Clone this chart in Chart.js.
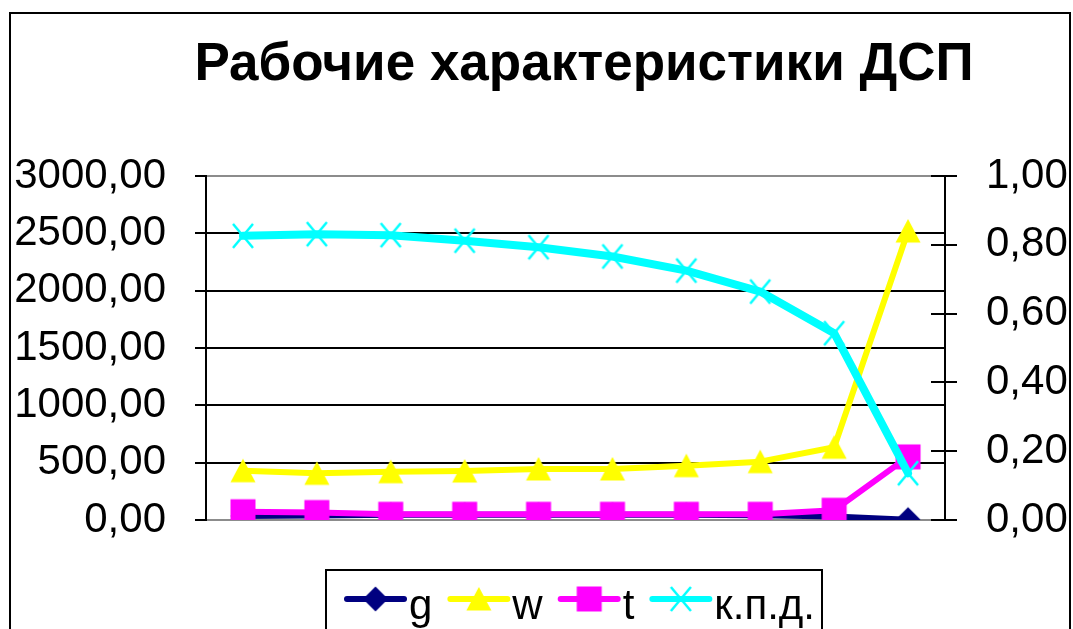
<!DOCTYPE html>
<html>
<head>
<meta charset="utf-8">
<script src="https://cdn.jsdelivr.net/npm/chart.js@4.4.1/dist/chart.umd.min.js"></script>
<style>
  html, body { margin: 0; padding: 0; background: #fff; }
  #wrap { width: 1073px; height: 629px; position: relative; overflow: hidden; }
  canvas { display: block; background: #fff; }
</style>
</head>
<body>
<div id="wrap"><canvas id="chart" width="1073" height="629"></canvas></div>
<script>
// ---- data ----
const chartTitle = 'Рабочие характеристики ДСП';
const categories = ['1', '2', '3', '4', '5', '6', '7', '8', '9', '10'];
const seriesNames = ['g', 'w', 't', 'к.п.д.'];
const gValues   = [35, 40, 45, 45, 45, 45, 45, 42, 30, 3];
const wValues   = [430, 407, 421, 427, 445, 445, 474, 509, 634, 2520];
const tValues   = [72, 65, 50, 50, 50, 50, 50, 50, 85, 550];
const kpdValues = [0.826, 0.831, 0.828, 0.812, 0.793, 0.766, 0.725, 0.664, 0.543, 0.136];
const leftTicks  = [0, 500, 1000, 1500, 2000, 2500, 3000];
const rightTicks = [0, 0.2, 0.4, 0.6, 0.8, 1.0];

const FONT = "'Liberation Sans', Arial, Helvetica, sans-serif";
const fmt = v => Number(v).toFixed(2).replace('.', ',');

// marker glyphs drawn once onto small canvases, reused by the lines and the legend
function makeMarker(kind, color) {
  const s = 30, m = s / 2;
  const c = document.createElement('canvas');
  c.width = s; c.height = s;
  const x = c.getContext('2d');
  x.fillStyle = color;
  x.strokeStyle = color;
  x.beginPath();
  if (kind === 'diamond') {
    x.moveTo(m, m - 12.5); x.lineTo(m + 12.5, m); x.lineTo(m, m + 12.5); x.lineTo(m - 12.5, m);
    x.closePath(); x.fill();
  } else if (kind === 'triangle') {
    x.moveTo(m, m - 12); x.lineTo(m + 12.5, m + 11.5); x.lineTo(m - 12.5, m + 11.5);
    x.closePath(); x.fill();
  } else if (kind === 'square') {
    x.rect(m - 12.5, m - 12.5, 25, 25); x.fill();
  } else if (kind === 'cross') {
    x.lineWidth = 2.5;
    x.moveTo(m - 10, m - 12); x.lineTo(m + 10, m + 12);
    x.moveTo(m + 10, m - 12); x.lineTo(m - 10, m + 12);
    x.stroke();
  }
  return c;
}

const colors = { g: '#000080', w: '#FFFF00', t: '#FF00FF', kpd: '#00FFFF' };

function lineSeries(label, data, color, width, marker, axis, order) {
  return {
    label, data, yAxisID: axis, order,
    borderColor: color, backgroundColor: color, borderWidth: width,
    borderJoinStyle: 'round', borderCapStyle: 'round',
    pointStyle: makeMarker(marker, color), pointRadius: 12, pointHoverRadius: 12,
    tension: 0, fill: false
  };
}

const datasets = [
  lineSeries(seriesNames[0], gValues,   colors.g,   6, 'diamond',  'y',  4),
  lineSeries(seriesNames[1], wValues,   colors.w,   6, 'triangle', 'y',  3),
  lineSeries(seriesNames[2], tValues,   colors.t,   6, 'square',   'y',  2),
  lineSeries(seriesNames[3], kpdValues, colors.kpd, 8, 'cross',    'y1', 1)
];

// frame, title, inner half of the right-axis ticks and the legend box
const decorations = {
  id: 'decorations',
  afterDraw(chart) {
    const ctx = chart.ctx;
    ctx.save();

    // outer frame
    ctx.strokeStyle = '#000';
    ctx.lineWidth = 2;
    ctx.strokeRect(10, 13, 1060, 700);

    // title
    ctx.fillStyle = '#000';
    ctx.font = 'bold 53px ' + FONT;
    ctx.textAlign = 'center';
    ctx.textBaseline = 'alphabetic';
    ctx.fillText(chartTitle, 584, 80);

    // right axis ticks cross the axis line
    const r = chart.scales.y1;
    ctx.strokeStyle = '#000';
    ctx.lineWidth = 2;
    r.ticks.forEach(t => {
      const py = Math.round(r.getPixelForValue(t.value));
      ctx.beginPath();
      ctx.moveTo(r.left - 14, py);
      ctx.lineTo(r.left, py);
      ctx.stroke();
    });

    // legend
    ctx.lineWidth = 2;
    ctx.strokeStyle = '#000';
    ctx.fillStyle = '#fff';
    ctx.fillRect(326, 570, 496, 80);
    ctx.strokeRect(326, 570, 496, 80);
    ctx.font = '42px ' + FONT;
    ctx.textAlign = 'left';
    ctx.textBaseline = 'alphabetic';
    let x = 347;
    const ly = 599;
    chart.data.datasets.forEach(ds => {
      ctx.strokeStyle = ds.borderColor;
      ctx.lineWidth = 6;
      ctx.lineCap = 'round';
      ctx.beginPath();
      ctx.moveTo(x, ly);
      ctx.lineTo(x + 57, ly);
      ctx.stroke();
      const mk = ds.pointStyle;
      ctx.drawImage(mk, x + 28.5 - mk.width / 2, ly - mk.height / 2);
      ctx.fillStyle = '#000';
      ctx.fillText(ds.label, x + 62, 619);
      x = x + 62 + ctx.measureText(ds.label).width + 18;
    });

    ctx.restore();
  }
};

new Chart(document.getElementById('chart'), {
  type: 'line',
  data: { labels: categories, datasets },
  options: {
    responsive: false,
    animation: false,
    events: [],
    layout: { padding: { top: 176, bottom: 109, left: 0, right: 0 } },
    plugins: { legend: { display: false }, title: { display: false }, tooltip: { enabled: false } },
    scales: {
      x: { type: 'category', offset: true, display: false },
      y: {
        position: 'left', min: 0, max: 3000,
        afterBuildTicks: s => { s.ticks = leftTicks.map(v => ({ value: v })); },
        afterFit: s => { s.width = 206; },
        ticks: { color: '#000', font: { family: FONT, size: 42 }, padding: 29, callback: v => fmt(v) },
        grid: {
          color: c => (c.tick && (c.tick.value === 0 || c.tick.value === 3000)) ? '#8c8c8c' : '#000',
          lineWidth: 2, tickColor: '#000', tickLength: 11, drawTicks: true
        },
        border: { display: true, color: '#000', width: 2 }
      },
      y1: {
        position: 'right', min: 0, max: 1,
        afterBuildTicks: s => { s.ticks = rightTicks.map(v => ({ value: v })); },
        afterFit: s => { s.width = 128; },
        ticks: { color: '#000', font: { family: FONT, size: 42 }, padding: 29, callback: v => fmt(v) },
        grid: { drawOnChartArea: false, tickColor: '#000', tickLength: 12, lineWidth: 2 },
        border: { display: true, color: '#000', width: 2 }
      }
    }
  },
  plugins: [decorations]
});
</script>
</body>
</html>
